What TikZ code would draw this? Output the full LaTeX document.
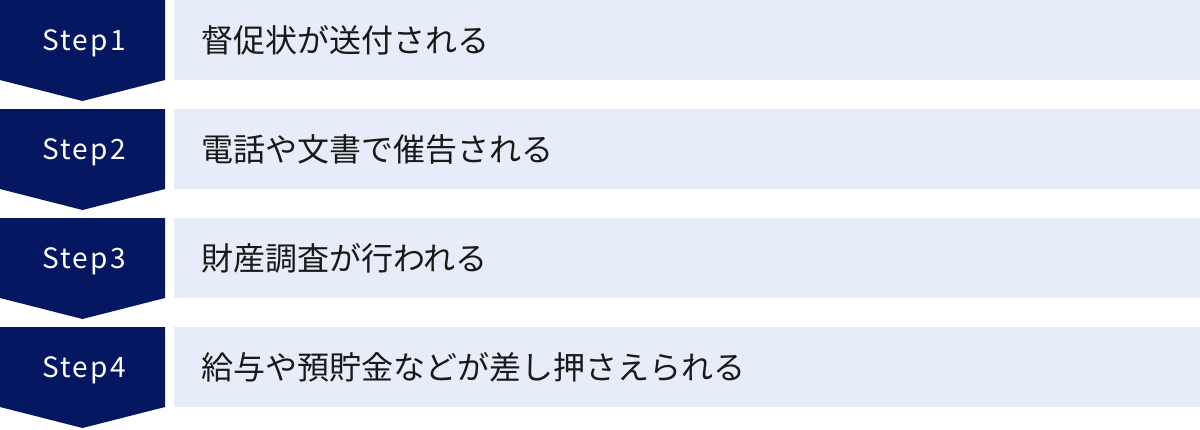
\documentclass[tikz,border=0pt]{standalone}
\usepackage{fontspec}
\setmainfont{Noto Sans CJK JP}
\definecolor{stepnavy}{HTML}{041760}
\definecolor{barblue}{HTML}{E6ECF8}
\tikzset{
 steplabel/.style={anchor=base, inner sep=0pt, text=white, font=\fontsize{28}{28}\selectfont\addfontfeature{LetterSpace=8}},
 bartext/.style={anchor=west, inner sep=0pt, text=black!90, font=\fontsize{32}{32}\selectfont},
}
\begin{document}
\begin{tikzpicture}[x=1pt,y=-1pt]
    \useasboundingbox (0,0) rectangle (1200,429);
    \foreach \txt[count=\i] in {督促状が送付される, 電話や文書で催告される, 財産調査が行われる, 給与や預貯金などが差し押さえられる} {
        \pgfmathsetmacro{\rowy}{(\i-1)*109}
        \fill[stepnavy] (0,\rowy) -- (165,\rowy) -- (165,\rowy+80) -- (82.5,\rowy+101) -- (0,\rowy+80) -- cycle;
        \fill[barblue] (174,\rowy) rectangle (1200,\rowy+80);
        \node[steplabel] (step\i) at (84,\rowy+50) {Step\i};
        \node[bartext] (text\i) at (201,\rowy+40) {\txt};
    }
\end{tikzpicture}
\end{document}
